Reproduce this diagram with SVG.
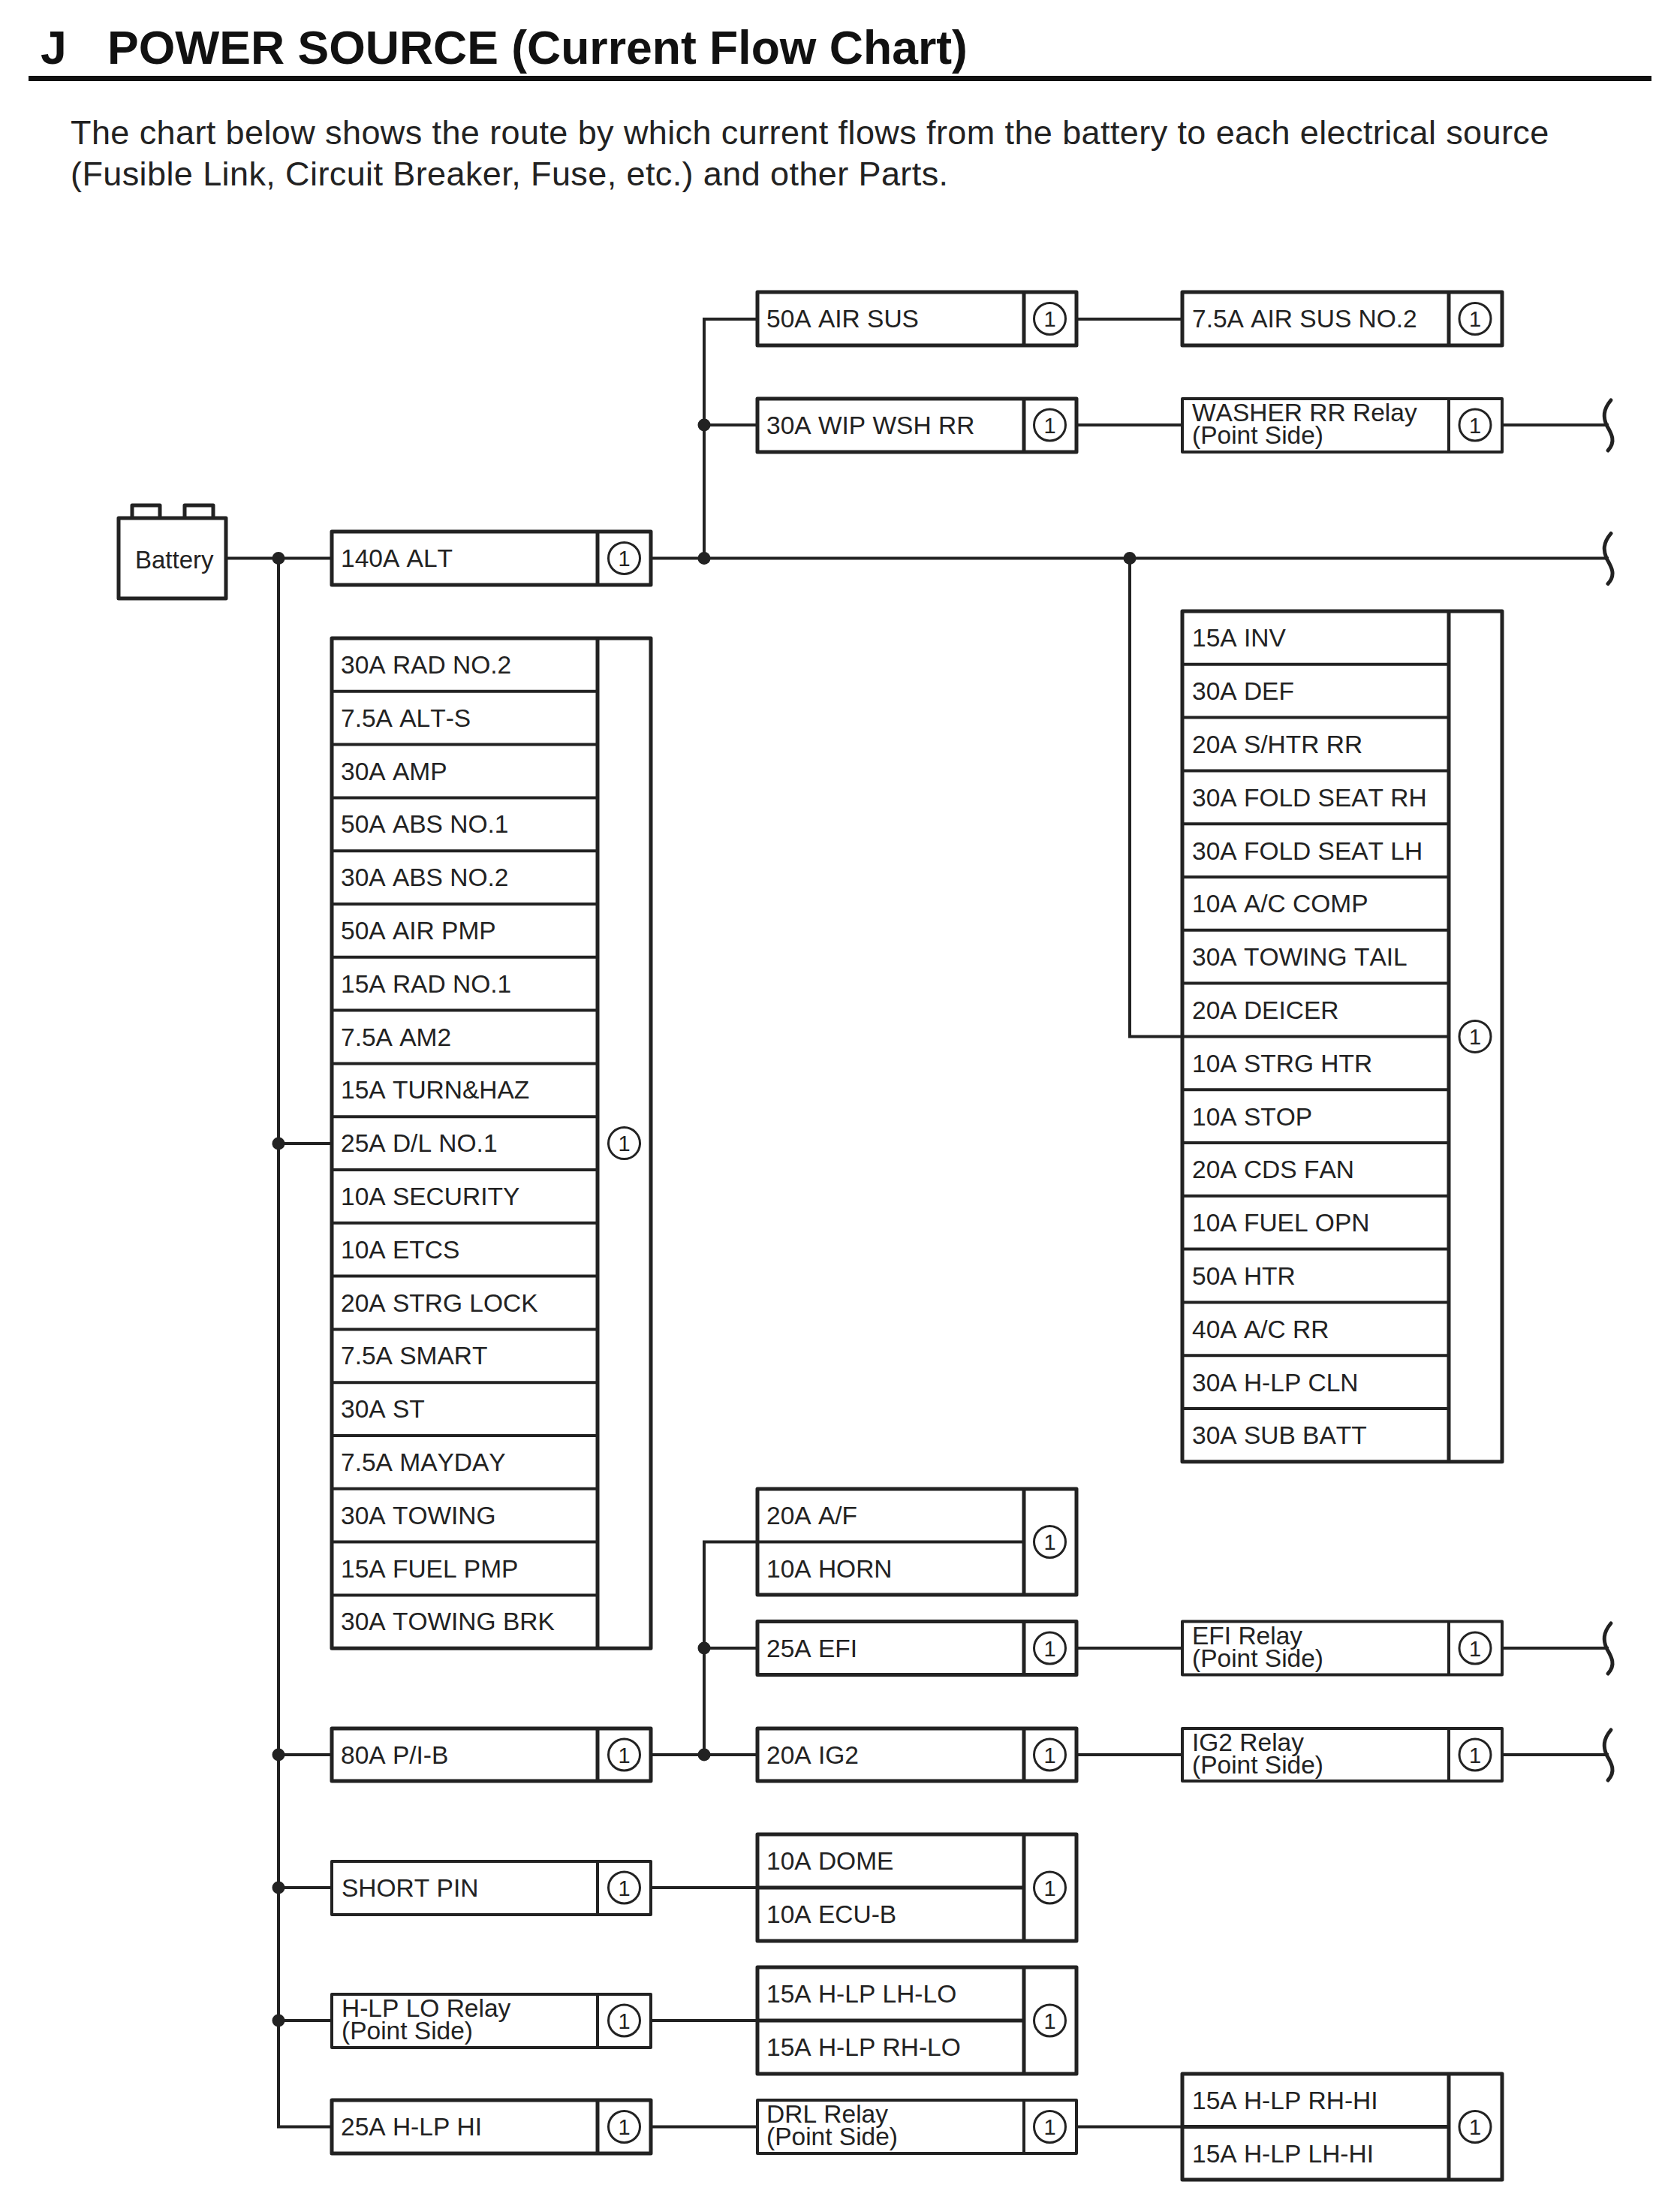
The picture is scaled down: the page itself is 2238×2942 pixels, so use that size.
<svg xmlns="http://www.w3.org/2000/svg" width="2238" height="2942" viewBox="0 0 2238 2942">
<style>
text{font-family:"Liberation Sans",Arial,sans-serif;fill:#222;font-size:33.5px;font-kerning:none}
.h{font-size:62.5px;font-weight:bold;fill:#111;font-kerning:auto}
.p{font-size:45px;letter-spacing:.4px;font-kerning:auto}
.b{fill:#fff;stroke:#222;stroke-width:5;stroke-linejoin:round}
.t{fill:#fff;stroke:#222;stroke-width:4;stroke-linejoin:round}
.d{fill:none;stroke:#222;stroke-width:5}
.e{fill:none;stroke:#222;stroke-width:4}
.w{fill:none;stroke:#222;stroke-width:4}
.c{fill:#fff;stroke:#222;stroke-width:3}
.n{fill:#222}
.s{fill:none;stroke:#222;stroke-width:5;stroke-linecap:round}
.o{text-anchor:middle;font-size:29px;transform:translateY(-1px)}
</style>
<rect width="2238" height="2942" fill="#fff"/>
<g id="header">
<text class="h" x="54" y="85">J</text>
<text class="h" x="143" y="85">POWER SOURCE (Current Flow Chart)</text>
<rect x="38" y="101" width="2162" height="7" fill="#111"/>
<text class="p" x="94" y="192">The chart below shows the route by which current flows from the battery to each electrical source</text>
<text class="p" x="94" y="247">(Fusible Link, Circuit Breaker, Fuse, etc.) and other Parts.</text>
</g>
<g id="connectors">
<path class="w" d="M301 743.5H442M867 743.5H2143M371 743.5V2832.5H442M371 1523H442M371 2337H442M371 2514H442M371 2691H442"/>
<path class="w" d="M938 743.5V425H1009M938 566H1009M1434 425H1575M1434 566H1575M2001 566H2143"/>
<path class="w" d="M1505 743.5V1380.5H1575"/>
<path class="w" d="M867 2337H1009M938 2337V2053.5H1009M938 2195H1009M1434 2195H1575M2001 2195H2143M1434 2337H1575M2001 2337H2143"/>
<path class="w" d="M867 2514H1009M867 2691H1009M867 2832.5H1009M1434 2832.5H1575"/>
<path class="s" d="M2146 533C2135 546 2136 556 2140 566C2147 578 2153 588 2142 600"/>
<path class="s" d="M2146 710.5C2135 723.5 2136 733.5 2140 743.5C2147 755.5 2153 765.5 2142 777.5"/>
<path class="s" d="M2146 2162C2135 2175 2136 2185 2140 2195C2147 2207 2153 2217 2142 2229"/>
<path class="s" d="M2146 2304C2135 2317 2136 2327 2140 2337C2147 2349 2153 2359 2142 2371"/>
<circle class="n" cx="371" cy="743.5" r="8.5"/><circle class="n" cx="371" cy="1523" r="8.5"/><circle class="n" cx="371" cy="2337" r="8.5"/><circle class="n" cx="371" cy="2514" r="8.5"/><circle class="n" cx="371" cy="2691" r="8.5"/>
<circle class="n" cx="938" cy="566" r="8.5"/><circle class="n" cx="938" cy="743.5" r="8.5"/><circle class="n" cx="1505" cy="743.5" r="8.5"/><circle class="n" cx="938" cy="2195" r="8.5"/><circle class="n" cx="938" cy="2337" r="8.5"/>
</g>
<g id="battery">
<path class="b" d="M176 690V673H213V690M246 690V673H284V690"/>
<rect class="b" x="158" y="690" width="143" height="107"/>
<text x="180" y="757" style="font-size:33px">Battery</text>
</g>
<g id="alt140"><rect class="b" x="442" y="708" width="425" height="71"/><path class="d" d="M796 708V779"/><text x="454" y="755">140A ALT</text><circle class="c" cx="831.5" cy="743.5" r="21"/><text class="o" x="831.5" y="755">1</text></g>
<g id="fuse-list-left">
<rect class="b" x="442" y="850" width="425" height="1345.2"/>
<path class="d" d="M796 850V2195.2"/>
<path class="e" d="M442 920.8H796M442 991.6H796M442 1062.4H796M442 1133.2H796M442 1204H796M442 1274.8H796M442 1345.6H796M442 1416.4H796M442 1487.2H796M442 1558H796M442 1628.8H796M442 1699.6H796M442 1770.4H796M442 1841.2H796M442 1912H796M442 1982.8H796M442 2053.6H796M442 2124.4H796"/>
<text x="454" y="896.9">30A RAD NO.2</text>
<text x="454" y="967.7">7.5A ALT-S</text>
<text x="454" y="1038.5">30A AMP</text>
<text x="454" y="1109.3">50A ABS NO.1</text>
<text x="454" y="1180.1">30A ABS NO.2</text>
<text x="454" y="1250.9">50A AIR PMP</text>
<text x="454" y="1321.7">15A RAD NO.1</text>
<text x="454" y="1392.5">7.5A AM2</text>
<text x="454" y="1463.3">15A TURN&amp;HAZ</text>
<text x="454" y="1534.1">25A D/L NO.1</text>
<text x="454" y="1604.9">10A SECURITY</text>
<text x="454" y="1675.7">10A ETCS</text>
<text x="454" y="1746.5">20A STRG LOCK</text>
<text x="454" y="1817.3">7.5A SMART</text>
<text x="454" y="1888.1">30A ST</text>
<text x="454" y="1958.9">7.5A MAYDAY</text>
<text x="454" y="2029.7">30A TOWING</text>
<text x="454" y="2100.5">15A FUEL PMP</text>
<text x="454" y="2171.3">30A TOWING BRK</text>
<circle class="c" cx="831.5" cy="1522.6" r="21"/><text class="o" x="831.5" y="1534">1</text>
</g>
<g id="pib80"><rect class="b" x="442" y="2302" width="425" height="70"/><path class="d" d="M796 2302V2372"/><text x="454" y="2348.5">80A P/I-B</text><circle class="c" cx="831.5" cy="2337" r="21"/><text class="o" x="831.5" y="2348.5">1</text></g>
<g id="short-pin"><rect class="t" x="442" y="2479" width="425" height="71"/><path class="e" d="M796 2479V2550"/><text x="455" y="2525.5">SHORT PIN</text><circle class="c" cx="831.5" cy="2514" r="21"/><text class="o" x="831.5" y="2525.5">1</text></g>
<g id="hlp-lo-relay"><rect class="t" x="442" y="2656" width="425" height="71"/><path class="e" d="M796 2656V2727"/><text x="455" y="2686">H-LP LO Relay<tspan x="455" dy="30">(Point Side)</tspan></text><circle class="c" cx="831.5" cy="2691" r="21"/><text class="o" x="831.5" y="2702.5">1</text></g>
<g id="hlp-hi25"><rect class="b" x="442" y="2797" width="425" height="71"/><path class="d" d="M796 2797V2868"/><text x="454" y="2844">25A H-LP HI</text><circle class="c" cx="831.5" cy="2832.5" r="21"/><text class="o" x="831.5" y="2844">1</text></g>
<g id="air-sus50"><rect class="b" x="1009" y="389" width="425" height="71"/><path class="d" d="M1364 389V460"/><text x="1021" y="436">50A AIR SUS</text><circle class="c" cx="1398.5" cy="424.5" r="21"/><text class="o" x="1398.5" y="436">1</text></g>
<g id="wip-wsh30"><rect class="b" x="1009" y="531" width="425" height="71"/><path class="d" d="M1364 531V602"/><text x="1021" y="577.5">30A WIP WSH RR</text><circle class="c" cx="1398.5" cy="566" r="21"/><text class="o" x="1398.5" y="577.5">1</text></g>
<g id="af-horn"><rect class="b" x="1009" y="1983" width="425" height="141"/><path class="d" d="M1364 1983V2124"/><path class="e" d="M1009 2053.5H1364"/><text x="1021" y="2030">20A A/F</text><text x="1021" y="2100.5">10A HORN</text><circle class="c" cx="1398.5" cy="2053.5" r="21"/><text class="o" x="1398.5" y="2065">1</text></g>
<g id="efi25"><rect class="b" x="1009" y="2159.5" width="425" height="71"/><path class="d" d="M1364 2159.5V2230.5"/><text x="1021" y="2206.5">25A EFI</text><circle class="c" cx="1398.5" cy="2195" r="21"/><text class="o" x="1398.5" y="2206.5">1</text></g>
<g id="ig2-20"><rect class="b" x="1009" y="2302" width="425" height="70"/><path class="d" d="M1364 2302V2372"/><text x="1021" y="2348.5">20A IG2</text><circle class="c" cx="1398.5" cy="2337" r="21"/><text class="o" x="1398.5" y="2348.5">1</text></g>
<g id="dome-ecub"><rect class="b" x="1009" y="2443" width="425" height="142"/><path class="d" d="M1364 2443V2585"/><path class="d" d="M1009 2514H1364"/><text x="1021" y="2490">10A DOME</text><text x="1021" y="2561">10A ECU-B</text><circle class="c" cx="1398.5" cy="2514" r="21"/><text class="o" x="1398.5" y="2525.5">1</text></g>
<g id="hlp-lo-fuses"><rect class="b" x="1009" y="2620" width="425" height="142"/><path class="d" d="M1364 2620V2762"/><path class="d" d="M1009 2691H1364"/><text x="1021" y="2667">15A H-LP LH-LO</text><text x="1021" y="2738">15A H-LP RH-LO</text><circle class="c" cx="1398.5" cy="2691" r="21"/><text class="o" x="1398.5" y="2702.5">1</text></g>
<g id="drl-relay"><rect class="t" x="1009" y="2797" width="425" height="71"/><path class="e" d="M1364 2797V2868"/><text x="1021" y="2827">DRL Relay<tspan x="1021" dy="30">(Point Side)</tspan></text><circle class="c" cx="1398.5" cy="2832.5" r="21"/><text class="o" x="1398.5" y="2844">1</text></g>
<g id="air-sus-no2"><rect class="b" x="1575" y="389" width="426" height="71"/><path class="d" d="M1930 389V460"/><text x="1588" y="436">7.5A AIR SUS NO.2</text><circle class="c" cx="1965" cy="424.5" r="21"/><text class="o" x="1965" y="436">1</text></g>
<g id="washer-relay"><rect class="t" x="1575" y="531" width="426" height="71"/><path class="e" d="M1930 531V602"/><text x="1588" y="560.5">WASHER RR Relay<tspan x="1588" dy="30.5">(Point Side)</tspan></text><circle class="c" cx="1965" cy="566" r="21"/><text class="o" x="1965" y="577.5">1</text></g>
<g id="fuse-list-right">
<rect class="b" x="1575" y="814" width="426" height="1132.8"/>
<path class="d" d="M1930 814V1946.8"/>
<path class="e" d="M1575 884.8H1930M1575 955.6H1930M1575 1026.4H1930M1575 1097.2H1930M1575 1168H1930M1575 1238.8H1930M1575 1309.6H1930M1575 1380.4H1930M1575 1451.2H1930M1575 1522H1930M1575 1592.8H1930M1575 1663.6H1930M1575 1734.4H1930M1575 1805.2H1930M1575 1876H1930"/>
<text x="1588" y="861.4">15A INV</text>
<text x="1588" y="932.2">30A DEF</text>
<text x="1588" y="1003">20A S/HTR RR</text>
<text x="1588" y="1073.8">30A FOLD SEAT RH</text>
<text x="1588" y="1144.6">30A FOLD SEAT LH</text>
<text x="1588" y="1215.4">10A A/C COMP</text>
<text x="1588" y="1286.2">30A TOWING TAIL</text>
<text x="1588" y="1357">20A DEICER</text>
<text x="1588" y="1427.8">10A STRG HTR</text>
<text x="1588" y="1498.6">10A STOP</text>
<text x="1588" y="1569.4">20A CDS FAN</text>
<text x="1588" y="1640.2">10A FUEL OPN</text>
<text x="1588" y="1711">50A HTR</text>
<text x="1588" y="1781.8">40A A/C RR</text>
<text x="1588" y="1852.6">30A H-LP CLN</text>
<text x="1588" y="1923.4">30A SUB BATT</text>
<circle class="c" cx="1965" cy="1380.4" r="21"/><text class="o" x="1965" y="1392">1</text>
</g>
<g id="efi-relay"><rect class="t" x="1575" y="2159.5" width="426" height="71"/><path class="e" d="M1930 2159.5V2230.5"/><text x="1588" y="2189.5">EFI Relay<tspan x="1588" dy="30.5">(Point Side)</tspan></text><circle class="c" cx="1965" cy="2195" r="21"/><text class="o" x="1965" y="2206.5">1</text></g>
<g id="ig2-relay"><rect class="t" x="1575" y="2302" width="426" height="70"/><path class="e" d="M1930 2302V2372"/><text x="1588" y="2331.5">IG2 Relay<tspan x="1588" dy="30.5">(Point Side)</tspan></text><circle class="c" cx="1965" cy="2337" r="21"/><text class="o" x="1965" y="2348.5">1</text></g>
<g id="hlp-hi-fuses"><rect class="b" x="1575" y="2762" width="426" height="141"/><path class="d" d="M1930 2762V2903"/><path class="d" d="M1575 2832.5H1930"/><text x="1588" y="2809">15A H-LP RH-HI</text><text x="1588" y="2879.5">15A H-LP LH-HI</text><circle class="c" cx="1965" cy="2832.5" r="21"/><text class="o" x="1965" y="2844">1</text></g>
</svg>
